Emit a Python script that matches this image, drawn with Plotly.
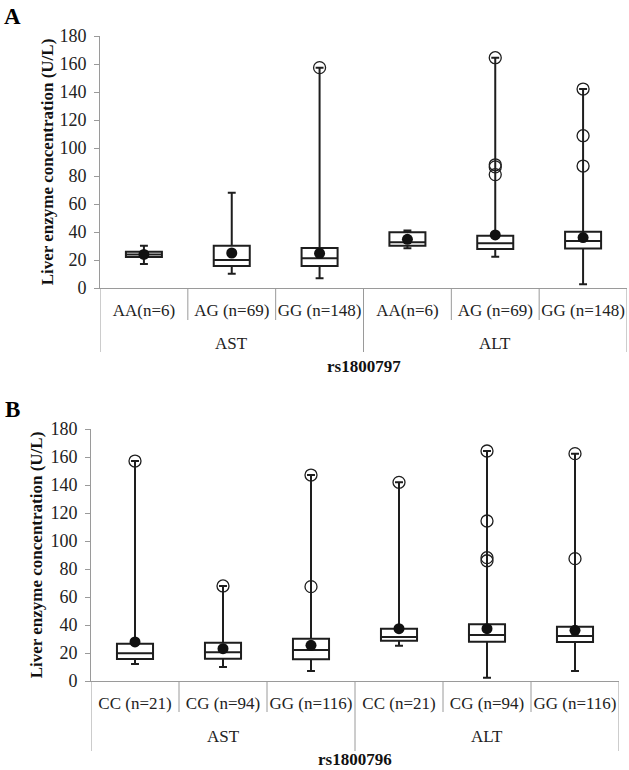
import plotly.graph_objects as go

# ---------------- data ----------------
groups = ["AST", "ALT"]

# Panel A: rs1800797
snp_a = "rs1800797"
cats_a = ["AA(n=6)", "AG (n=69)", "GG (n=148)", "AA(n=6)", "AG (n=69)", "GG (n=148)"]
a_min = [17.1, 10.2, 7.0, 28.4, 22.3, 2.6]
a_q1 = [22.1, 15.7, 15.7, 30.2, 27.9, 28.2]
a_med = [24.0, 20.0, 21.2, 32.6, 32.0, 33.5]
a_q3 = [25.9, 30.2, 28.5, 39.8, 37.3, 40.2]
a_max = [30.2, 68.0, 157.4, 41.0, 164.5, 142.1]
a_mean = [24.0, 25.0, 24.8, 34.8, 37.9, 36.0]
a_out = [[], [], [157.4], [], [164.5, 88.0, 86.5, 81.0], [142.1, 108.8, 87.1]]

# Panel B: rs1800796
snp_b = "rs1800796"
cats_b = ["CC (n=21)", "CG (n=94)", "GG (n=116)", "CC (n=21)", "CG (n=94)", "GG (n=116)"]
b_min = [12.1, 10.0, 7.1, 25.2, 2.4, 7.1]
b_q1 = [15.7, 15.9, 15.5, 28.8, 28.1, 27.9]
b_med = [19.8, 20.5, 22.1, 31.4, 32.9, 32.1]
b_q3 = [26.6, 27.4, 30.2, 37.4, 40.5, 38.8]
b_max = [157.1, 67.9, 147.1, 141.9, 164.3, 162.4]
b_mean = [27.9, 23.1, 25.5, 37.4, 37.4, 36.2]
b_out = [[157.1], [67.9], [147.1, 67.4], [141.9], [164.3, 114.3, 88.1, 85.9], [162.4, 87.4]]

y_ticks = [0, 20, 40, 60, 80, 100, 120, 140, 160, 180]
y_title = "Liver enzyme concentration (U/L)"

# ---------------- styling ----------------
W, H = 629, 770
SERIF = "Liberation Serif, Times New Roman, Times, serif"
AX_GRAY = "#9a9a9a"
INK = "#1e1e1e"

fig = go.Figure()


def add_panel(xa, ya, mins, q1, med, q3, maxs, means, outs):
    n = len(q1)
    xs = [i + 0.5 for i in range(n)]
    fig.add_trace(go.Box(
        x=xs, q1=q1, median=med, q3=q3, lowerfence=mins, upperfence=maxs,
        orientation="v", width=0.41, whiskerwidth=0.22, boxpoints=False,
        fillcolor="white", line=dict(color=INK, width=2),
        xaxis=xa, yaxis=ya, showlegend=False, hoverinfo="skip"))
    ox, oy = [], []
    for i, vals in enumerate(outs):
        for v in vals:
            ox.append(xs[i])
            oy.append(v)
    fig.add_trace(go.Scatter(
        x=ox, y=oy, mode="markers", xaxis=xa, yaxis=ya, showlegend=False,
        marker=dict(symbol="circle-open", size=12, color=INK, line=dict(width=1.3)),
        hoverinfo="skip"))
    fig.add_trace(go.Scatter(
        x=xs, y=means, mode="markers", xaxis=xa, yaxis=ya, showlegend=False,
        marker=dict(symbol="circle", size=11, color="#111111"),
        hoverinfo="skip"))
    return xs


xs_a = add_panel("x", "y", a_min, a_q1, a_med, a_q3, a_max, a_mean, a_out)
xs_b = add_panel("x2", "y2", b_min, b_q1, b_med, b_q3, b_max, b_mean, b_out)

# plot-area pixel geometry
A_left, A_right, A_top, A_bot = 100, 627, 36, 288
B_left, B_right, B_top, B_bot = 91, 619, 429, 681


def xdom(l, r):
    return [l / W, r / W]


def ydom(t, b):
    return [(H - b) / H, (H - t) / H]


def xaxis_cfg(l, r, anchor, xs, cats):
    return dict(domain=xdom(l, r), range=[0, len(cats)], anchor=anchor,
                automargin=False,
                showline=True, linecolor=AX_GRAY, linewidth=1,
                tickmode="array", tickvals=xs, ticktext=cats, ticks="",
                ticklabelstandoff=7,
                tickfont=dict(family=SERIF, size=17, color="#222"),
                showgrid=False, zeroline=False, fixedrange=True)


def yaxis_cfg(t, b, anchor, standoff):
    return dict(domain=ydom(t, b), range=[0, 180], anchor=anchor,
                automargin=False,
                tickmode="array", tickvals=y_ticks,
                showline=True, linecolor=AX_GRAY, linewidth=1,
                ticks="outside", ticklen=5, tickcolor=AX_GRAY,
                ticklabelstandoff=4,
                tickfont=dict(family=SERIF, size=18, color="#222"),
                title=dict(text=y_title, standoff=standoff,
                           font=dict(family=SERIF, size=17, color="#111", weight="bold")),
                showgrid=False, zeroline=False, fixedrange=True)


fig.update_layout(
    width=W, height=H, margin=dict(l=0, r=0, t=0, b=0, autoexpand=False),
    paper_bgcolor="white", plot_bgcolor="white",
    xaxis=xaxis_cfg(A_left, A_right, "y", xs_a, cats_a),
    yaxis=yaxis_cfg(A_top, A_bot, "x", 1),
    xaxis2=xaxis_cfg(B_left, B_right, "y2", xs_b, cats_b),
    yaxis2=yaxis_cfg(B_top, B_bot, "x2", 3),
)

shapes = []
annotations = []
PH = A_bot - A_top  # plot height in px


def panel_decor(xref, yref, cats, xs, snp, outer_len, inner_len):
    n = len(cats)
    per = n // len(groups)
    for i in range(n + 1):
        L = outer_len if i % per == 0 else inner_len
        shapes.append(dict(type="line", xref=xref, yref=yref, x0=i, x1=i,
                           y0=0, y1=-L / PH, line=dict(color=AX_GRAY, width=1)))
    for g, name in enumerate(groups):
        gx = sum(xs[g * per:(g + 1) * per]) / per
        annotations.append(dict(text=name, xref=xref, yref=yref, x=gx, y=-55 / PH,
                                showarrow=False, yanchor="middle",
                                font=dict(family=SERIF, size=17, color="#222")))
    annotations.append(dict(text=snp, xref=xref + " domain", yref=yref, x=0.5, y=-78 / PH,
                            showarrow=False, yanchor="middle",
                            font=dict(family=SERIF, size=17, color="#111", weight="bold")))


panel_decor("x", "y domain", cats_a, xs_a, snp_a, 64, 32)
panel_decor("x2", "y2 domain", cats_b, xs_b, snp_b, 70, 31)

annotations.append(dict(text="A", xref="paper", yref="paper", x=12 / W, y=1 - 17 / H,
                        showarrow=False, xanchor="center", yanchor="middle",
                        font=dict(family=SERIF, size=23, color="#000", weight="bold")))
annotations.append(dict(text="B", xref="paper", yref="paper", x=12 / W, y=1 - 410 / H,
                        showarrow=False, xanchor="center", yanchor="middle",
                        font=dict(family=SERIF, size=23, color="#000", weight="bold")))

fig.update_layout(shapes=shapes, annotations=annotations)
fig.write_html(
    "out.html",
    config={"displayModeBar": False},
    post_script="document.body.style.margin='0px';document.body.style.overflow='hidden';",
)
